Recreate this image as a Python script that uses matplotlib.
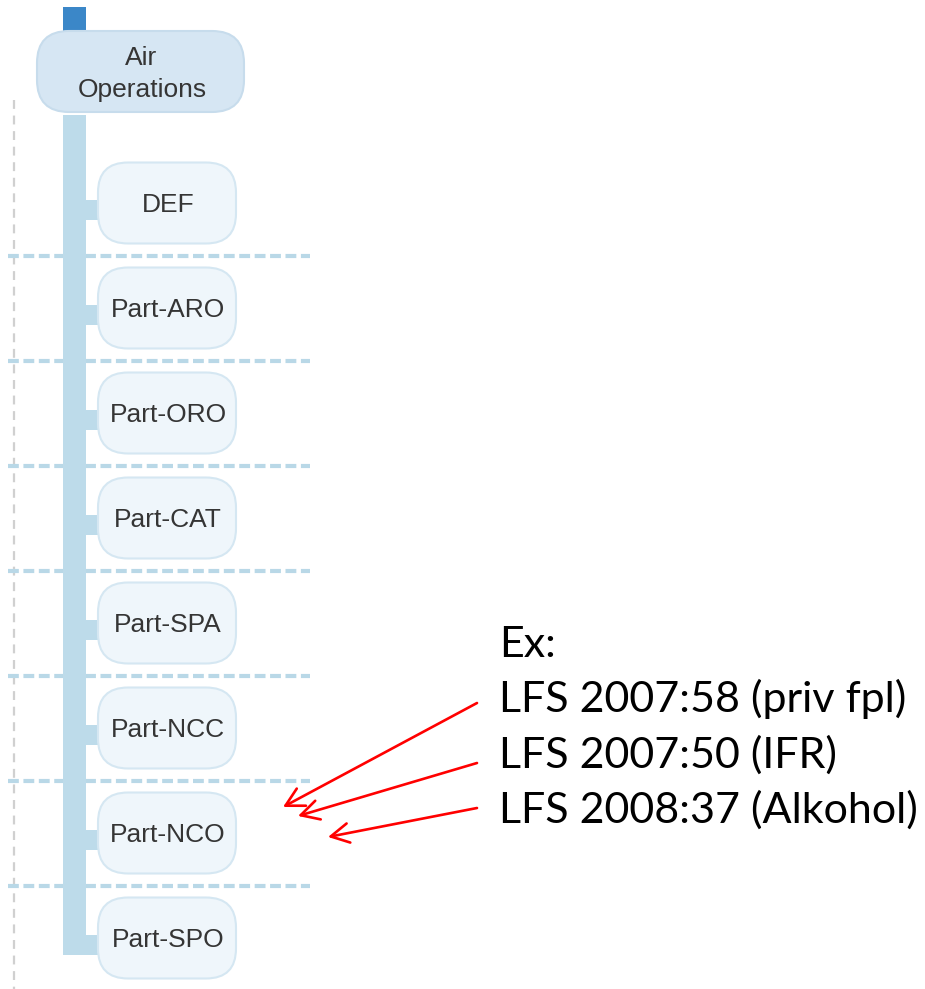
import matplotlib.pyplot as plt
from matplotlib.patches import FancyBboxPatch, Rectangle

# Air Operations regulation tree (diagram in pixel coordinates)
root_label = ['Air', 'Operations']
parts = ['DEF', 'Part-ARO', 'Part-ORO', 'Part-CAT', 'Part-SPA',
         'Part-NCC', 'Part-NCO', 'Part-SPO']
note_title = 'Ex:'
notes = ['LFS 2007:58 (priv fpl)', 'LFS 2007:50 (IFR)', 'LFS 2008:37 (Alkohol)']

# arrow start/end in pixels (start near the note line, tip at Part-NCO)
arrow_from = [(477, 703), (477, 763), (477, 808)]
arrow_to = [(283, 807), (298, 816), (328, 837)]

W, H = 925, 989
fig = plt.figure(figsize=(W / 100, H / 100), dpi=100)
ax = fig.add_axes([0, 0, 1, 1])
ax.set_xlim(0, W)
ax.set_ylim(H, 0)
ax.axis('off')

trunk_col = '#bddbea'
box_fill = '#eff6fb'
box_edge = '#d5e7f2'
label_col = '#353535'
sans = 'Liberation Sans'

# grey dashed guide on the left
ax.plot([14, 14], [100, H], color='#d0d0d0', lw=1.6, dashes=(4, 3), zorder=1)

# trunk + dark top bar
ax.add_patch(Rectangle((63, 115), 23, 840, color=trunk_col, lw=0, zorder=2))
ax.add_patch(Rectangle((63, 7), 23, 26, color='#3b87c8', lw=0, zorder=2))

# root box
root = FancyBboxPatch((37, 31), 207, 81, boxstyle='round,pad=0,rounding_size=32',
                      fc='#d6e6f3', ec='#c7dcec', lw=1.5, zorder=3)
ax.add_patch(root)
ax.text(141, 65, root_label[0], ha='center', va='baseline', fontsize=19,
        family=sans, color=label_col, zorder=4)
ax.text(142, 97, root_label[1], ha='center', va='baseline', fontsize=19,
        family=sans, color=label_col, zorder=4)

y0, step, bh = 203, 105, 81
for i, name in enumerate(parts):
    yc = y0 + i * step
    # stub from trunk to box
    ax.add_patch(Rectangle((85, yc - 3), 14, 20, color=trunk_col, lw=0, zorder=2))
    box = FancyBboxPatch((98, yc - bh / 2), 138, bh,
                         boxstyle='round,pad=0,rounding_size=30',
                         fc=box_fill, ec=box_edge, lw=1.5, zorder=3)
    ax.add_patch(box)
    ax.text(168, yc + 9, name, ha='center', va='baseline', fontsize=19,
            family=sans, color=label_col, zorder=4)
    # dashed separator below each box except the last
    if i < len(parts) - 1:
        ys = yc + step / 2
        ax.plot([8, 310], [ys, ys], color='#b9d8e7', lw=3, dashes=(2.6, 1.1),
                zorder=1)

# notes text
ax.text(499, 657, note_title, ha='left', va='baseline', fontsize=31,
        family='Lato', color='black')
for i, t in enumerate(notes):
    ax.text(499, 712 + i * 55.5, t, ha='left', va='baseline', fontsize=31,
            family='Lato', color='black')

# red arrows
for s, e in zip(arrow_from, arrow_to):
    ax.annotate('', xy=e, xytext=s, xycoords='data',
                arrowprops=dict(arrowstyle='->,head_length=1.3,head_width=0.7',
                                mutation_scale=10, lw=1.9, color='#ff0000',
                                shrinkA=0, shrinkB=0))

fig.savefig('out.png', dpi=100)
